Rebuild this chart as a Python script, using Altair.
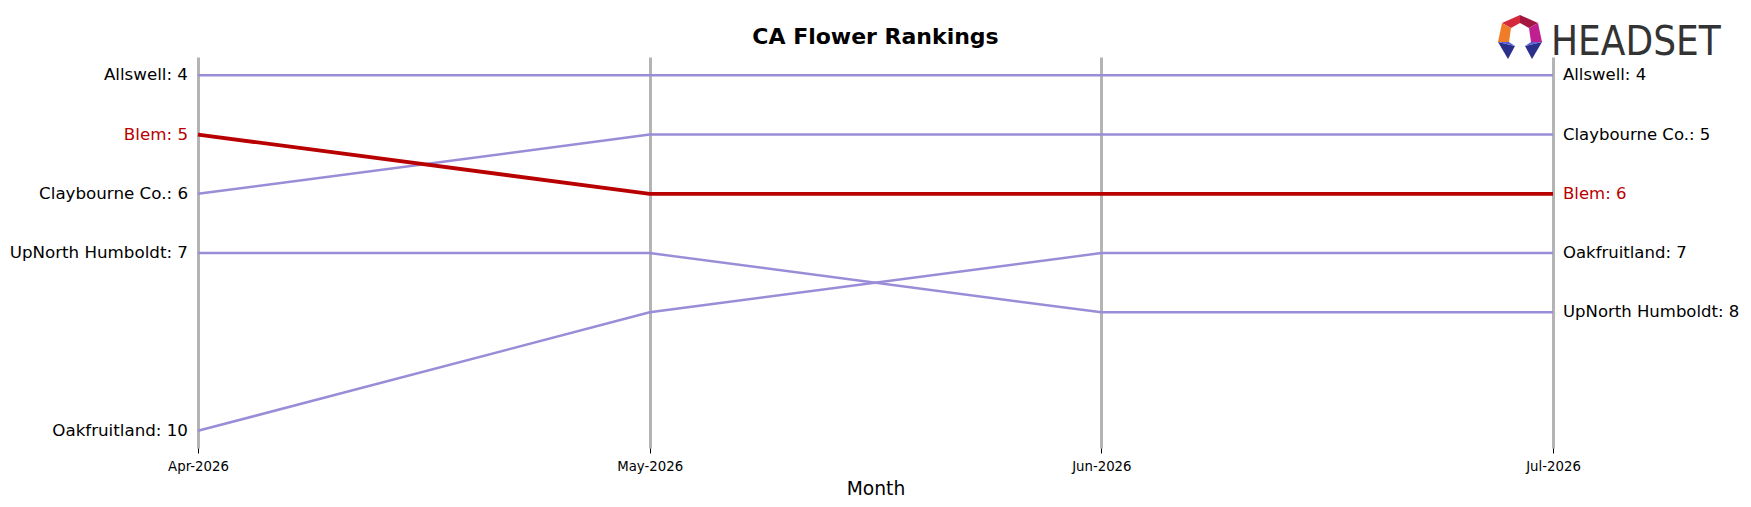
import altair as alt
import pandas as pd
from urllib.parse import quote

# ---- data ----
months = ["Apr-2026", "May-2026", "Jun-2026", "Jul-2026"]
brands = ["Allswell", "Claybourne Co.", "UpNorth Humboldt", "Oakfruitland", "Blem"]
rank_allswell = [4, 4, 4, 4]
rank_blem = [5, 6, 6, 6]
rank_claybourne = [6, 5, 5, 5]
rank_upnorth = [7, 7, 8, 8]
rank_oakfruitland = [10, 8, 7, 7]
highlight = "Blem"
chart_title = "CA Flower Rankings"
x_title = "Month"

series = {
    "Allswell": rank_allswell,
    "Blem": rank_blem,
    "Claybourne Co.": rank_claybourne,
    "UpNorth Humboldt": rank_upnorth,
    "Oakfruitland": rank_oakfruitland,
}
rows = []
for b in brands:
    for m, r in zip(months, series[b]):
        rows.append({"month": m, "brand": b, "rank": r, "label": f"{b}: {r}"})
df = pd.DataFrame(rows)

RED = "#b80000"
LAV = "#9b8cd8"
FONT = "DejaVu Sans"
W, H = 1355, 391

x = alt.X("month:N", sort=months, title=x_title,
          scale=alt.Scale(type="point", padding=0),
          axis=alt.Axis(labelAngle=0, labelFontSize=13.3, labelFont=FONT, labelColor="black",
                        titleFontSize=18.7, titleFont=FONT, titleFontWeight="normal", titleColor="black",
                        titlePadding=7, labelPadding=6,
                        tickColor="black", tickSize=5, tickWidth=1,
                        domain=False, grid=True, gridColor="#b4b4b4", gridWidth=3))
y = alt.Y("rank:Q", scale=alt.Scale(domain=[3.69, 10.29], reverse=True, nice=False, zero=False), axis=None)

base = alt.Chart(df)

others = base.transform_filter(alt.datum.brand != highlight).mark_line(
    color=LAV, strokeWidth=2.5).encode(x=x, y=y, detail="brand:N")
hl = base.transform_filter(alt.datum.brand == highlight).mark_line(
    color=RED, strokeWidth=3.8).encode(x=x, y=y)

lab_color = alt.condition(alt.datum.brand == highlight, alt.value(RED), alt.value("black"))
left = base.transform_filter(alt.datum.month == months[0]).mark_text(
    align="right", baseline="middle", dx=-10, fontSize=16.7, font=FONT).encode(
    x=x, y=y, text="label:N", color=lab_color)
right = base.transform_filter(alt.datum.month == months[-1]).mark_text(
    align="left", baseline="middle", dx=10, fontSize=16.5, font=FONT).encode(
    x=x, y=y, text="label:N", color=lab_color)

# ---- title & logo (decoration) ----
title_df = pd.DataFrame({"t": [chart_title]})
title = alt.Chart(title_df).mark_text(
    align="center", baseline="middle", fontSize=22, fontWeight="bold", font=FONT, color="black").encode(
    x=alt.value(W / 2), y=alt.value(-20), text="t:N")

polys = [
    ("#d42a3c", "5,8 23,0 23,8 14,13"),
    ("#a3163f", "23,0 41,8 32,13 23,8"),
    ("#f07c2a", "5,8 14,13 12,27 1,27"),
    ("#c0208f", "41,8 45,27 34,27 32,13"),
    ("#2a2f8a", "1,27 18,31 11,44"),
    ("#5c5fd6", "1,27 12,27 18,31"),
    ("#2a2f8a", "45,27 28,31 35,44"),
    ("#5c5fd6", "45,27 34,27 28,31"),
]
svg = '<svg xmlns="http://www.w3.org/2000/svg" width="46" height="44" viewBox="0 0 46 44">' + "".join(
    f'<polygon points="{p}" fill="{c}"/>' for c, p in polys) + "</svg>"
uri = "data:image/svg+xml;charset=utf-8," + quote(svg)
logo_df = pd.DataFrame({"u": [uri], "t": ["HEADSET"]})
icon = alt.Chart(logo_df).mark_image(width=46, height=44).encode(
    x=alt.value(1322), y=alt.value(-20), url="u:N")
word = alt.Chart(logo_df).mark_text(
    align="left", baseline="alphabetic", fontSize=40, font="DejaVu Sans Condensed, Roboto, sans-serif",
    color="#333333").encode(x=alt.value(1353), y=alt.value(-2), text="t:N")

chart = alt.layer(others, hl, left, right, title, icon, word).properties(
    width=W, height=H,
    autosize=alt.AutoSizeParams(type="none"),
    padding={"left": 190, "top": 49, "right": 190, "bottom": 50},
    background="white",
).configure_view(stroke=None)

chart.save("out.html", embed_options={"renderer": "svg", "actions": False})
